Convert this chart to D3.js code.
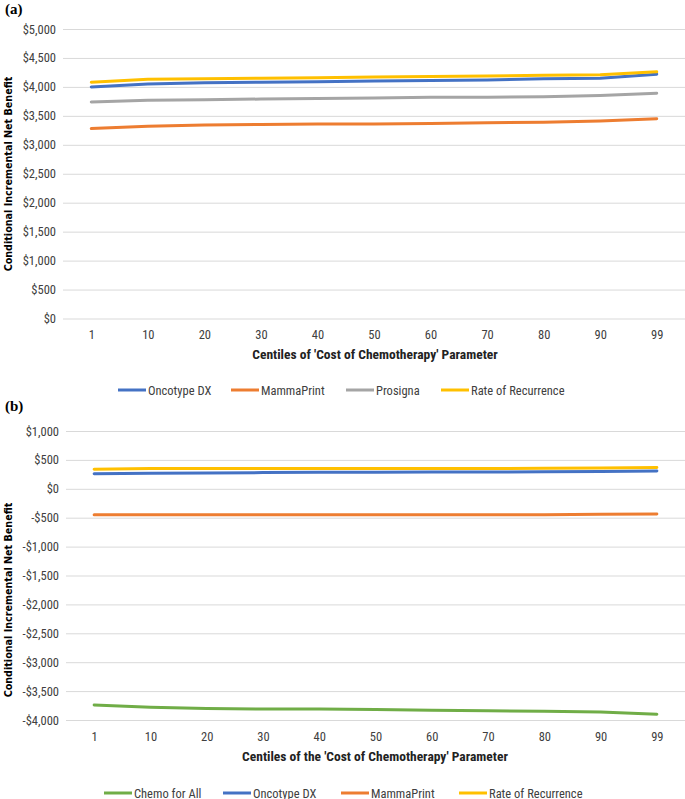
<!DOCTYPE html>
<html><head><meta charset="utf-8">
<script src="https://cdn.jsdelivr.net/npm/d3@7"></script>
<style>
body{margin:0;background:#fff;}
svg{display:block;}
.tick text{font-family:"Liberation Sans Narrow","Roboto Condensed",Roboto,sans-serif;}
</style></head>
<body>
<script>
const centiles = ["1","10","20","30","40","50","60","70","80","90","99"];

// Panel (a)
const aOncotype = [4000,4050,4070,4080,4090,4100,4110,4120,4140,4150,4220];
const aMammaPrint = [3280,3320,3340,3350,3360,3360,3370,3380,3390,3410,3450];
const aProsigna = [3740,3770,3780,3790,3800,3810,3820,3820,3830,3850,3890];
const aRateRecurrence = [4080,4130,4140,4150,4160,4170,4180,4190,4200,4210,4260];
const aTicks = [0,500,1000,1500,2000,2500,3000,3500,4000,4500,5000];

// Panel (b)
const bChemoAll = [-3740,-3780,-3800,-3810,-3810,-3820,-3830,-3840,-3850,-3860,-3900];
const bOncotype = [260,270,275,280,285,285,290,290,295,300,310];
const bMammaPrint = [-450,-450,-450,-450,-450,-450,-450,-450,-450,-440,-435];
const bRateRecurrence = [340,350,350,350,350,350,350,350,355,360,370];
const bTicks = [-4000,-3500,-3000,-2500,-2000,-1500,-1000,-500,0,500,1000];

const C = {blue:"#4472C4", orange:"#ED7D31", gray:"#A5A5A5", yellow:"#FFC000", green:"#70AD47"};

const svg = d3.select("body").append("svg").attr("width",685).attr("height",799);
const narrow = '"Liberation Sans Narrow","Roboto Condensed",Roboto,sans-serif';

const fmt = v => (v<0?"-":"") + "$" + d3.format(",")(Math.abs(v));

function panel(opt){
  const x = d3.scalePoint().domain(centiles).range([opt.x0, opt.x1]).padding(0.5);
  const y = d3.scaleLinear().domain(opt.domain).range([opt.yBottom, opt.yTop]);
  const g = svg.append("g");
  // gridlines
  const yAxis = d3.axisLeft(y).tickValues(opt.ticks).tickSize(-(opt.x1-opt.x0)).tickFormat(fmt).tickPadding(7);
  const ya = g.append("g").attr("transform",`translate(${opt.x0},0)`).call(yAxis);
  ya.select(".domain").remove();
  ya.selectAll(".tick line").attr("stroke","#d9d9d9").attr("stroke-width",1);
  ya.selectAll(".tick text").attr("fill","#404040").style("font-size","12.5px");
  // x labels
  const xAxis = d3.axisBottom(x).tickSize(0).tickPadding(12);
  const xa = g.append("g").attr("transform",`translate(0,${opt.yBottom})`).call(xAxis);
  xa.select(".domain").remove();
  xa.selectAll(".tick text").attr("fill","#404040").style("font-size","12.5px");
  // lines
  const line = d3.line().x((d,i)=>x(centiles[i])).y(d=>y(d));
  opt.series.forEach(s=>{
    g.append("path").datum(s.values).attr("d",line).attr("fill","none")
      .attr("stroke",s.color).attr("stroke-width",3).attr("stroke-linecap","round").attr("stroke-linejoin","round");
  });
  // x title
  g.append("text").attr("x",opt.xTitleX).attr("y",opt.xTitleY).attr("text-anchor","middle")
    .attr("font-family",narrow).attr("font-weight","bold").attr("font-size","13.5px").attr("fill","#222")
    .text(opt.xTitle);
  // y title
  g.append("text").attr("transform",`translate(12,${opt.yTitleY}) rotate(-90)`).attr("text-anchor","middle")
    .attr("font-family","'DejaVu Sans',sans-serif").attr("font-weight","bold").attr("font-size","9.6px").attr("fill","#000")
    .text("Conditional  Incremental Net Benefit");
  // label
  svg.append("text").attr("x",5).attr("y",opt.labelY).attr("font-family","'Liberation Serif',serif")
    .attr("font-weight","bold").attr("font-size","15px").text(opt.label);
  // legend
  const lg = g.append("g");
  opt.legend.forEach(l=>{
    lg.append("line").attr("x1",l.x).attr("x2",l.x+28).attr("y1",opt.legendY).attr("y2",opt.legendY)
      .attr("stroke",l.color).attr("stroke-width",3);
    lg.append("text").attr("x",l.x+30).attr("y",opt.legendY+4.5).attr("font-family",narrow)
      .attr("font-size","12.5px").attr("fill","#404040").text(l.name);
  });
}

panel({
  x0:63, x1:685, yTop:29, yBottom:318.5, domain:[0,5000], ticks:aTicks,
  series:[
    {values:aMammaPrint,color:C.orange},
    {values:aProsigna,color:C.gray},
    {values:aOncotype,color:C.blue},
    {values:aRateRecurrence,color:C.yellow}
  ],
  xTitle:"Centiles of 'Cost of Chemotherapy' Parameter", xTitleX:375, xTitleY:359,
  yTitleY:174, label:"(a)", labelY:14, legendY:390,
  legend:[
    {name:"Oncotype DX",color:C.blue,x:118},
    {name:"MammaPrint",color:C.orange,x:231},
    {name:"Prosigna",color:C.gray,x:346},
    {name:"Rate of Recurrence",color:C.yellow,x:441}
  ]
});

panel({
  x0:66, x1:685, yTop:431, yBottom:720, domain:[-4000,1000], ticks:bTicks,
  series:[
    {values:bChemoAll,color:C.green},
    {values:bMammaPrint,color:C.orange},
    {values:bOncotype,color:C.blue},
    {values:bRateRecurrence,color:C.yellow}
  ],
  xTitle:"Centiles of the 'Cost of Chemotherapy' Parameter", xTitleX:375, xTitleY:761,
  yTitleY:600, label:"(b)", labelY:411, legendY:793,
  legend:[
    {name:"Chemo for All",color:C.green,x:104},
    {name:"Oncotype DX",color:C.blue,x:223},
    {name:"MammaPrint",color:C.orange,x:341},
    {name:"Rate of Recurrence",color:C.yellow,x:459}
  ]
});
</script>
</body></html>
